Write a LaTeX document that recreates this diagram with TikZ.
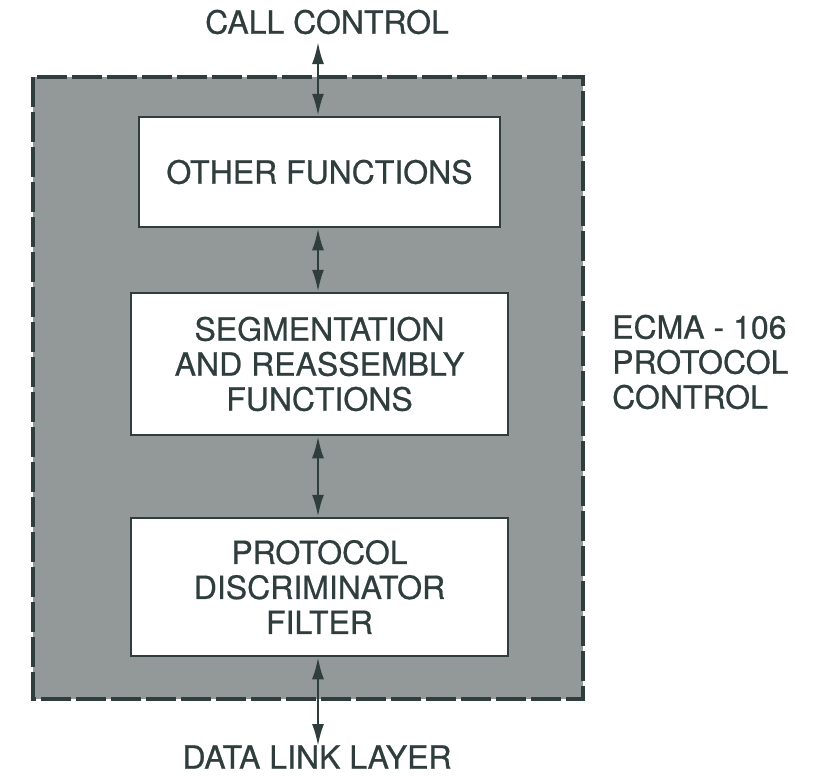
\documentclass[tikz,border=0pt]{standalone}
\usepackage{fontspec}
\setmainfont{TeX Gyre Heros}[FakeBold=0.6]
\usetikzlibrary{arrows.meta}
\definecolor{ink}{HTML}{2F3D3D}
\definecolor{shade}{HTML}{939999}
\tikzset{
  x=1pt, y=-1pt,
  fnbox/.style={draw=ink, line width=2.5pt, fill=white, inner sep=0pt, align=center, text=ink, font=\fontsize{32}{35}\selectfont},
  lbl/.style={text=ink, font=\fontsize{32}{35}\selectfont, inner sep=0pt},
  conn/.style={draw=ink, line width=2.5pt, {Latex[length=22pt,width=12pt]}-{Latex[length=22pt,width=12pt]}}
}
\begin{document}
\begin{tikzpicture}
\useasboundingbox (0,0) rectangle (820,777);
\fill[white] (0,0) rectangle (820,777);
\draw[draw=ink, fill=shade, line width=4pt, dash pattern=on 30pt off 5pt] (33,77) rectangle (583,699);
\node[fnbox, minimum width=361pt, minimum height=110pt] (other) at (319.5,172) {OTHER FUNCTIONS};
\node[fnbox, minimum width=377pt, minimum height=142pt] (seg) at (319.5,364) {SEGMENTATION\\AND REASSEMBLY\\FUNCTIONS};
\node[fnbox, minimum width=377pt, minimum height=138pt] (pdf) at (319.5,587) {PROTOCOL\\DISCRIMINATOR\\FILTER};
\node[lbl] (cc) at (327,22) {CALL CONTROL};
\node[lbl] (dll) at (317,757) {DATA LINK LAYER};
\node[lbl, align=left, anchor=west] (ecma) at (612,362) {ECMA - 106\\PROTOCOL\\CONTROL};
\coordinate (ctop) at (318,42);
\coordinate (cbot) at (318,746);
\draw[conn] (ctop) -- (other.north -| ctop);
\draw[conn] (other.south -| ctop) -- (seg.north -| ctop);
\draw[conn] (seg.south -| ctop) -- (pdf.north -| ctop);
\draw[conn] (pdf.south -| ctop) -- (cbot);
\end{tikzpicture}
\end{document}
